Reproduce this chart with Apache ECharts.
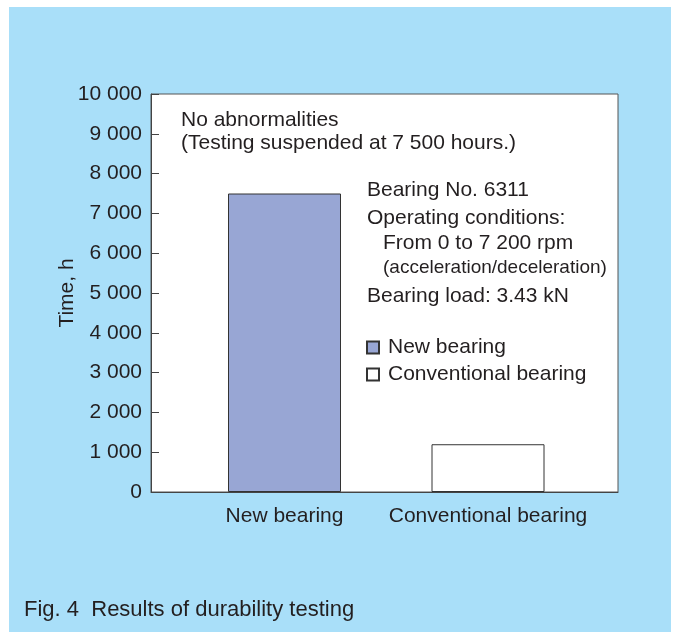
<!DOCTYPE html>
<html>
<head>
<meta charset="utf-8">
<script src="https://cdn.jsdelivr.net/npm/echarts@6/dist/echarts.min.js"></script>
<style>
  body { margin: 0; background: #fff; }
  #panel { position: absolute; left: 9px; top: 7px; width: 662px; height: 625px; background: #a9dff9; }
  #chart { position: absolute; left: 0; top: 0; width: 676px; height: 632px; }
</style>
</head>
<body>
<div id="panel"></div>
<div id="chart"></div>
<script>
var categories = ['New bearing', 'Conventional bearing'];
var seriesNames = ['New bearing', 'Conventional bearing'];
var hours = [7500, 1200];
var yMin = 0, yMax = 10000, yStep = 1000;

var txtColor = '#231f20';
var fontFam = '"Liberation Sans", Arial, Helvetica, sans-serif';
var fs = 21;

function fmt(v) {
    return String(v).replace(/\B(?=(\d{3})+(?!\d))/g, ' ');
}

function txt(x, y, s, size) {
    return {
        type: 'text', x: x, y: y, z: 10,
        style: {
            text: s, fill: txtColor,
            font: (size || fs) + 'px ' + fontFam,
            verticalAlign: 'middle', textVerticalAlign: 'middle'
        }
    };
}

var chart = echarts.init(document.getElementById('chart'));
var option = {
    backgroundColor: 'transparent',
    animation: false,
    textStyle: { fontFamily: fontFam },
    grid: [
        { left: 151, right: 58, top: 94, height: 398, show: true, backgroundColor: '#fff', borderColor: '#555', borderWidth: 1 },
        { left: 182.75, width: 407, top: 94, height: 398 }
    ],
    xAxis: [
        { type: 'category', gridIndex: 0, data: categories, axisLine: { lineStyle: { color: '#444' } }, axisTick: { show: false }, axisLabel: { show: false } },
        { type: 'category', gridIndex: 1, data: categories, axisLine: { show: false }, axisTick: { show: false },
          axisLabel: { interval: 0, fontSize: fs, color: txtColor, margin: 14, fontFamily: fontFam } }
    ],
    yAxis: [
        { type: 'value', gridIndex: 0, min: yMin, max: yMax, interval: yStep,
          name: 'Time, h', nameLocation: 'middle', nameGap: 73, nameMoveOverlap: false,
          nameTextStyle: { fontSize: fs, color: txtColor, fontFamily: fontFam },
          axisLine: { show: true, lineStyle: { color: '#444' } },
          axisTick: { show: true, inside: true, length: 8, lineStyle: { color: '#444' } },
          splitLine: { show: false },
          axisLabel: { fontSize: fs, color: txtColor, margin: 9, fontFamily: fontFam, formatter: fmt } },
        { type: 'value', gridIndex: 1, min: yMin, max: yMax, interval: yStep, show: false, splitLine: { show: false } }
    ],
    legend: {
        orient: 'vertical', left: 366, top: 337, padding: 0, itemWidth: 12, itemHeight: 12, itemGap: 6, icon: 'rect',
        textStyle: { fontSize: fs, color: txtColor, fontFamily: fontFam, padding: [0, 0, 0, 4] },
        data: seriesNames
    },
    series: [
        { name: seriesNames[0], type: 'bar', xAxisIndex: 1, yAxisIndex: 1, stack: 'b', barWidth: 113,
          data: hours.map(function (v, i) { return i === 0 ? v : '-'; }),
          itemStyle: { color: '#98a6d4', borderColor: '#333', borderWidth: 1 } },
        { name: seriesNames[1], type: 'bar', xAxisIndex: 1, yAxisIndex: 1, stack: 'b', barWidth: 113,
          data: hours.map(function (v, i) { return i === 1 ? v : '-'; }),
          itemStyle: { color: '#fff', borderColor: '#333', borderWidth: 1 } }
    ],
    graphic: [
        txt(181, 120, 'No abnormalities'),
        txt(181, 143, '(Testing suspended at 7 500 hours.)'),
        txt(367, 190, 'Bearing No. 6311'),
        txt(367, 218, 'Operating conditions:'),
        txt(383, 243, 'From 0 to 7 200 rpm'),
        txt(383, 268, '(acceleration/deceleration)', 19),
        txt(367, 296, 'Bearing load: 3.43 kN'),
        txt(24, 610, 'Fig. 4  Results of durability testing', 22)
    ]
};
chart.setOption(option);
window.addEventListener('resize', chart.resize);
</script>
</body>
</html>
